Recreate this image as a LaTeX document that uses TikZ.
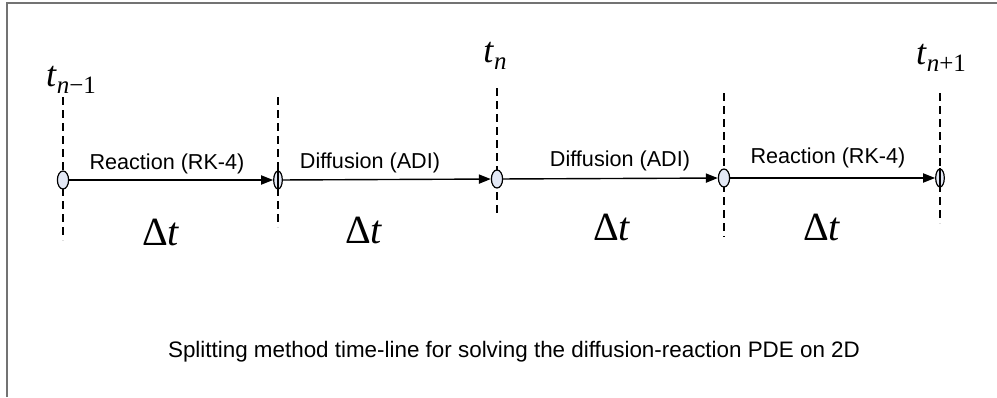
\documentclass[tikz,border=0pt]{standalone}
\usepackage{fontspec}
\newfontfamily\labelfont{Liberation Sans}
\newfontfamily\timefont{Liberation Serif}
\usetikzlibrary{shapes.geometric,arrows.meta}
\definecolor{pointfill}{HTML}{E3E8F5}
\newcommand{\tstep}[1]{\textit{t}\raisebox{-0.45ex}{\fontsize{12.5}{14}\selectfont #1}}
\begin{document}
\begin{tikzpicture}[x=0.5pt,y=-0.5pt,
    point/.style={ellipse,draw=black,fill=pointfill,line width=0.6pt,
                  minimum width=5.6pt,minimum height=9pt,inner sep=0pt},
    flow/.style={-{Triangle[length=6pt,width=4.6pt]},line width=0.7pt,draw=black},
    guide/.style={dashed,dash pattern=on 4pt off 2.5pt,line width=0.6pt},
    method/.style={font=\labelfont\fontsize{10.8}{12}\selectfont,inner sep=1pt},
    span/.style={font=\timefont\fontsize{20}{22}\selectfont},
    stamp/.style={font=\timefont\fontsize{18}{20}\selectfont}
  ]
    \useasboundingbox (0,0) rectangle (997,397);
    \draw[line width=1pt,black!55] (7,397) -- (7,3) -- (997,3);

    \draw[guide] (63,97) -- (63,240);
    \draw[guide] (497,88) -- (497,215);
    \draw[guide] (724,93) -- (724,237);

    \node[point] (p1) at (63,180) {};
    \node[point,minimum width=4.3pt] (p2) at (278,180) {};
    \node[point] (p3) at (497,179) {};
    \node[point] (p4) at (724,178) {};
    \node[point,minimum width=4.3pt] (p5) at (940,178) {};

    \draw[guide] (278,97) -- (278,227);
    \draw[guide] (940,93) -- (940,223);
    \draw[line width=0.6pt] (p2.north) -- (p2.south);
    \draw[line width=0.6pt] (p5.north) -- (p5.south);

    \draw[flow] (p1) -- (p2);
    \draw[flow] (p2) -- (p3);
    \draw[flow] (p3) -- (p4);
    \draw[flow] (p4) -- (p5);

    \node[method] (m1) at (167,164) {Reaction (RK-4)};
    \node[method] (m2) at (370,163) {Diffusion (ADI)};
    \node[method] (m3) at (620,161) {Diffusion (ADI)};
    \node[method] (m4) at (828,158) {Reaction (RK-4)};

    \node[span] (d1) at (161,232) {Δ\textit{t}};
    \node[span] (d2) at (364,230) {Δ\textit{t}};
    \node[span] (d3) at (612,227) {Δ\textit{t}};
    \node[span] (d4) at (822,227) {Δ\textit{t}};

    \node[stamp] (t1) at (71,80) {\tstep{\textit{n}−1}};
    \node[stamp] (t2) at (495,56) {\tstep{\textit{n}}};
    \node[stamp] (t3) at (941,58) {\tstep{\textit{n}+1}};

    \node[method,font=\labelfont\fontsize{11.2}{13}\selectfont] (cap) at (514,352)
      {Splitting method time-line for solving the diffusion-reaction PDE on 2D};
  \end{tikzpicture}
\end{document}
